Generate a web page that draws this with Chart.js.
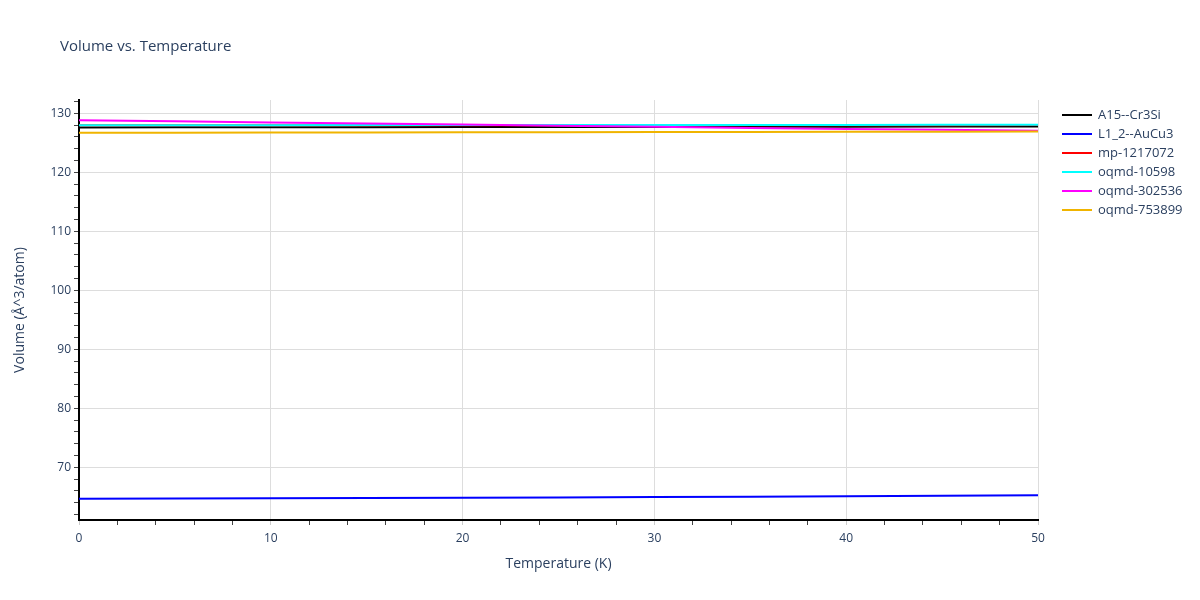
<!DOCTYPE html>
<html>
<head>
<meta charset="utf-8">
<script src="https://cdn.jsdelivr.net/npm/chart.js@4.4.1/dist/chart.umd.min.js"></script>
<style>
  html, body { margin: 0; padding: 0; background: #fff; }
  #wrap { position: relative; width: 1200px; height: 600px; }
  #title {
    position: absolute; left: 60px; top: 35px;
    font-family: 'Open Sans', sans-serif; font-size: 15px; color: #2a3f5f;
  }
</style>
</head>
<body>
<div id="wrap">
  <div id="title">Volume vs. Temperature</div>
  <canvas id="chart" width="1200" height="600"></canvas>
</div>
<script>
// Temperatura (K)
const temps = [0, 5, 10, 15, 20, 25, 30, 35, 40, 45, 50];

// Volume (Å^3/atom) por estrutura
const a15Cr3Si   = [127.60, 127.62, 127.63, 127.65, 127.66, 127.68, 127.69, 127.71, 127.72, 127.74, 127.75];
const l12AuCu3   = [64.68, 64.70, 64.75, 64.80, 64.85, 64.90, 64.97, 65.03, 65.10, 65.17, 65.25];
const mp1217072  = [127.95, 127.95, 127.96, 127.96, 127.97, 127.97, 127.98, 127.98, 127.99, 127.99, 128.00];
const oqmd10598  = [127.98, 127.98, 127.99, 128.00, 128.00, 128.01, 128.02, 128.03, 128.03, 128.04, 128.05];
const oqmd302536 = [128.80, 128.65, 128.45, 128.25, 128.10, 127.90, 127.70, 127.50, 127.35, 127.20, 127.05];
const oqmd753899 = [126.70, 126.72, 126.74, 126.76, 126.78, 126.80, 126.82, 126.84, 126.86, 126.88, 126.90];

const seriesNames  = ['A15--Cr3Si', 'L1_2--AuCu3', 'mp-1217072', 'oqmd-10598', 'oqmd-302536', 'oqmd-753899'];
const seriesValues = [a15Cr3Si, l12AuCu3, mp1217072, oqmd10598, oqmd302536, oqmd753899];
const seriesColors = ['#000000', '#0000ff', '#ff0000', '#00ffff', '#ff00ff', '#f0b400'];

// Ticks dos eixos
const xTicks = [0, 10, 20, 30, 40, 50];
const yTicks = [70, 80, 90, 100, 110, 120, 130];

const textColor = '#2a3f5f';
const fontFamily = "'Open Sans', sans-serif";

// Ticks menores a cada 2 unidades
function withMinor(min, max) {
    const out = [];
    for (let v = Math.ceil(min / 2) * 2; v <= max + 1e-9; v += 2) out.push({ value: v });
    return out;
}
const isMajor = (v, majors) => majors.includes(v);

// Legenda desenhada à direita, no estilo do original
const sideLegend = {
    id: 'sideLegend',
    afterDraw(chart) {
        const ctx = chart.ctx;
        ctx.save();
        ctx.font = '13px ' + fontFamily;
        ctx.textBaseline = 'middle';
        seriesNames.forEach((name, i) => {
            const y = 115 + i * 19;
            ctx.strokeStyle = seriesColors[i];
            ctx.lineWidth = 2;
            ctx.beginPath();
            ctx.moveTo(1062, y);
            ctx.lineTo(1092, y);
            ctx.stroke();
            ctx.fillStyle = textColor;
            ctx.fillText(name, 1098, y);
        });
        ctx.restore();
    }
};

const datasets = seriesNames.map((name, i) => ({
    label: name,
    data: temps.map((t, j) => ({ x: t, y: seriesValues[i][j] })),
    borderColor: seriesColors[i],
    backgroundColor: seriesColors[i],
    borderWidth: 2,
    pointRadius: 0,
    fill: false,
    order: seriesNames.length - i
}));

new Chart(document.getElementById('chart'), {
    type: 'line',
    data: { datasets },
    options: {
        responsive: false,
        animation: false,
        layout: { padding: { left: 0, right: 162, top: 100, bottom: 0 } },
        plugins: {
            legend: { display: false },
            title: { display: false },
            tooltip: { enabled: false }
        },
        scales: {
            x: {
                type: 'linear',
                min: 0,
                max: 50,
                afterBuildTicks: s => { s.ticks = withMinor(0, 50); },
                afterFit: s => { s.height = 80; },
                ticks: {
                    autoSkip: false,
                    maxRotation: 0,
                    padding: 6,
                    color: textColor,
                    font: { family: fontFamily, size: 12 },
                    callback: v => isMajor(v, xTicks) ? String(v) : ''
                },
                grid: {
                    tickLength: 5,
                    color: c => (c.tick && isMajor(c.tick.value, xTicks) && c.tick.value !== 0) ? '#dddddd' : 'rgba(0,0,0,0)',
                    tickColor: c => (c.tick && isMajor(c.tick.value, xTicks)) ? '#cccccc' : '#444444'
                },
                border: { color: '#000000', width: 2 },
                title: {
                    display: true,
                    text: 'Temperature (K)',
                    color: textColor,
                    font: { family: fontFamily, size: 14 },
                    padding: { top: 0, bottom: 28 }
                }
            },
            y: {
                type: 'linear',
                min: 61.07,
                max: 132.25,
                afterBuildTicks: s => { s.ticks = withMinor(61.07, 132.25); },
                afterFit: s => { s.width = 79; },
                ticks: {
                    autoSkip: false,
                    padding: 3,
                    color: textColor,
                    font: { family: fontFamily, size: 12 },
                    callback: v => isMajor(v, yTicks) ? String(v) : ''
                },
                grid: {
                    tickLength: 5,
                    color: c => (c.tick && isMajor(c.tick.value, yTicks)) ? '#dddddd' : 'rgba(0,0,0,0)',
                    tickColor: '#444444'
                },
                border: { color: '#000000', width: 2 },
                title: {
                    display: true,
                    text: 'Volume (Å^3/atom)',
                    color: textColor,
                    font: { family: fontFamily, size: 14 },
                    padding: { top: 12, bottom: 0 }
                }
            }
        }
    },
    plugins: [sideLegend]
});
</script>
</body>
</html>
